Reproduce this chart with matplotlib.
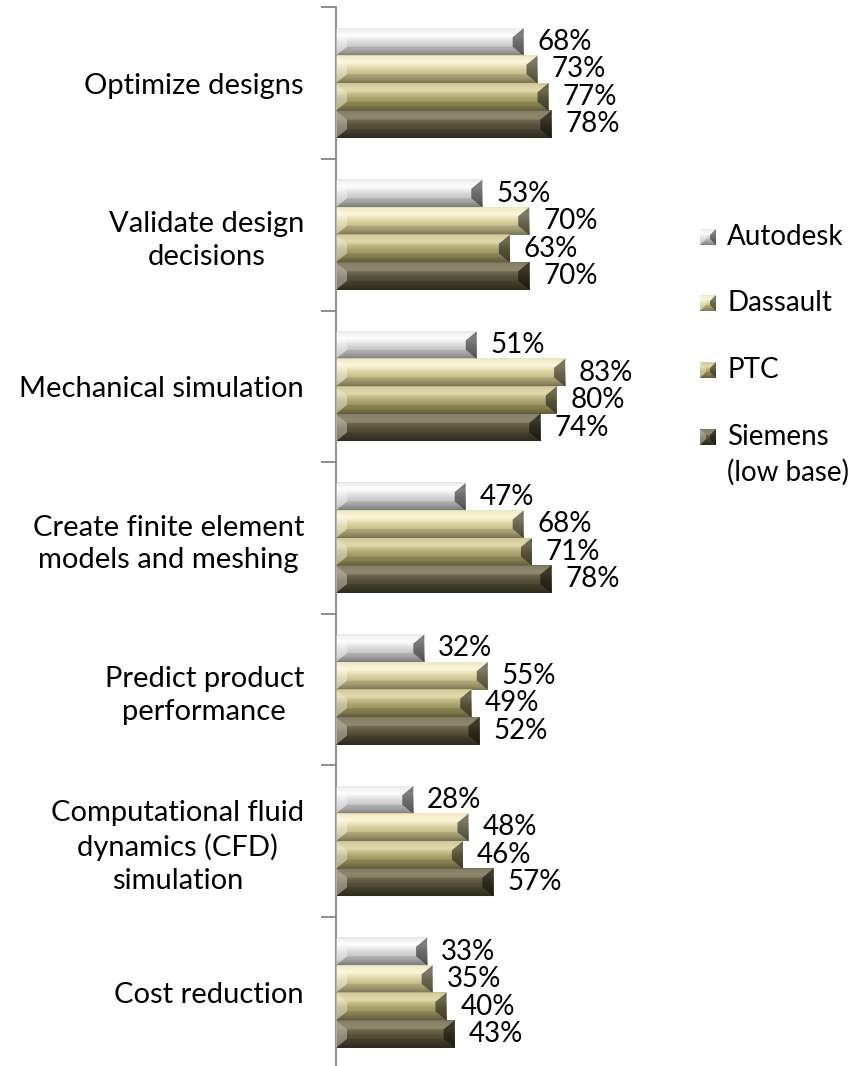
import matplotlib
matplotlib.use("Agg")
import matplotlib.pyplot as plt
import numpy as np
from matplotlib.colors import LinearSegmentedColormap
from matplotlib.patches import Polygon

plt.rcParams['font.family'] = ['Lato', 'DejaVu Sans']

categories = ['Optimize designs',
              'Validate design\ndecisions',
              'Mechanical simulation',
              'Create finite element\nmodels and meshing',
              'Predict product\nperformance',
              'Computational fluid\ndynamics (CFD)\nsimulation',
              'Cost reduction']
series = ['Autodesk', 'Dassault', 'PTC', 'Siemens']
legend_labels = ['Autodesk', 'Dassault', 'PTC', 'Siemens\n(low base)']
autodesk = [68, 53, 51, 47, 32, 28, 33]
dassault = [73, 70, 83, 68, 55, 48, 35]
ptc = [77, 63, 80, 71, 49, 46, 40]
siemens = [78, 70, 74, 78, 52, 57, 43]
values = [autodesk, dassault, ptc, siemens]

# top, highlight, mid, lower, bottom for each series
shades = [
    ['#e6e6e6', '#ffffff', '#d4d4d4', '#bdbdbd', '#8e8e8e'],
    ['#ece4b8', '#fbf6d6', '#d3cb98', '#bab281', '#8a845e'],
    ['#c9c08a', '#dcd4a0', '#aaa26a', '#958e5a', '#6e6944'],
    ['#6c6649', '#7b7556', '#56513a', '#47432f', '#33311f'],
]

W, H = 861, 1066
fig = plt.figure(figsize=(W / 100, H / 100), dpi=100)
ax = fig.add_axes([336 / W, 1 - 1068.6 / H, 276 / W, 1061.2 / H])
ax.set_xlim(0, 100)
ax.set_ylim(len(categories) - 0.5, -0.5)
ax.set_zorder(1)

px_x = 100 / 276.0            # data units per pixel along x
px_y = 1 / 151.6              # data units per pixel along y


def bevel(a, x0, y0, w, h, bx, by, cols):
    # gradient face plus shaded end wedges; y0 is the top edge on screen
    cmap = LinearSegmentedColormap.from_list('b', list(zip([0, 0.25, 0.55, 0.8, 1.0], cols)))
    grad = np.linspace(0, 1, 64).reshape(-1, 1)
    a.imshow(grad, cmap=cmap, extent=(x0, x0 + w, y0 + h, y0), origin='upper',
             aspect='auto', interpolation='bilinear', zorder=2)
    top = Polygon([(x0, y0), (x0 + w, y0), (x0 + w - bx, y0 + by), (x0 + bx, y0 + by)],
                  closed=True, facecolor='white', alpha=0.15, lw=0, zorder=3)
    bot = Polygon([(x0, y0 + h), (x0 + w, y0 + h), (x0 + w - bx, y0 + h - by),
                   (x0 + bx, y0 + h - by)], closed=True, facecolor='black', alpha=0.12,
                  lw=0, zorder=3)
    left = Polygon([(x0, y0), (x0 + bx, y0 + by), (x0 + bx, y0 + h - by), (x0, y0 + h)],
                   closed=True, facecolor='white', alpha=0.35, lw=0, zorder=3)
    right = Polygon([(x0 + w, y0), (x0 + w - bx, y0 + by), (x0 + w - bx, y0 + h - by),
                     (x0 + w, y0 + h)], closed=True, facecolor='black', alpha=0.5,
                    lw=0, zorder=3)
    for p in (top, bot, left, right):
        a.add_patch(p)


bar_h = 0.726 / 4
for j in range(len(series)):
    for i, v in enumerate(values[j]):
        yc = i + (j - 1.5) * bar_h
        bevel(ax, 0, yc - bar_h / 2, v, bar_h, 11 * px_x, 9 * px_y, shades[j])
        ax.annotate(f'{v}%', (v, yc), xytext=(10, 0), textcoords='offset points',
                    va='center', ha='left', fontsize=20, color='black')

for s in ['top', 'right', 'bottom']:
    ax.spines[s].set_visible(False)
ax.spines['left'].set_color('#868686')
ax.spines['left'].set_linewidth(1.3)
ax.set_xticks([])
ax.set_yticks(np.arange(len(categories) + 1) - 0.5)
ax.set_yticklabels([])
ax.tick_params(axis='y', which='major', length=11, width=1.3, color='#868686')
ax.set_yticks(np.arange(len(categories)), minor=True)
ax.set_yticklabels(categories, minor=True, fontsize=21)
ax.tick_params(axis='y', which='minor', length=0, pad=23)
for lbl in ax.get_yticklabels(minor=True):
    lbl.set_multialignment('center')
    lbl.set_linespacing(1.32)

# legend drawn in pixel coordinates
lax = fig.add_axes([0, 0, 1, 1])
lax.set_xlim(0, W)
lax.set_ylim(H, 0)
lax.axis('off')
rows = [237, 303, 370, 437]
for j, name in enumerate(legend_labels):
    bevel(lax, 700, rows[j] - 8, 16, 16, 6, 6, shades[j])
    lax.text(727, rows[j], name.split('\n')[0], fontsize=20, va='center', ha='left')
    if '\n' in name:
        lax.text(727, rows[j] + 35, name.split('\n')[1], fontsize=20, va='center', ha='left')

fig.savefig('out.png', dpi=100)
